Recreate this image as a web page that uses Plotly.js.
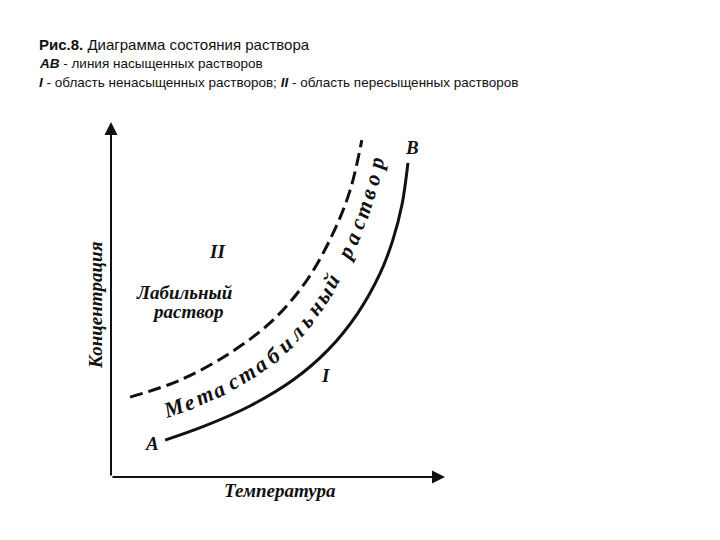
<!DOCTYPE html>
<html>
<head>
<meta charset="utf-8">
<script src="https://cdn.plot.ly/plotly-3.0.1.min.js"></script>
<style>html,body{margin:0;padding:0;background:#fff;}#chart{width:720px;height:540px;}</style>
</head>
<body>
<div id="chart"></div>
<script>
// ---- data (arbitrary units, 0..100 on both axes) ----
const saturatedX = [16.2, 28.1, 41.6, 54.5, 65.0, 73.7, 80.5, 84.4, 87.1, 88.9];   // line AB (solid)
const saturatedY = [10.4, 14.4, 20.0, 27.3, 35.8, 45.9, 57.2, 66.8, 76.6, 88.5];
const supersatX  = [5.7, 20.7, 35.6, 48.5, 58.7, 66.5, 71.6, 75.1];                // metastable limit (dashed)
const supersatY  = [22.5, 27.3, 34.9, 44.2, 55.5, 68.7, 80.8, 94.9];
const metastableLabel = "Метастабильный раствор";
const xTitle = "Температура";
const yTitle = "Концентрация";

// ---- geometry ----
const W = 720, H = 540, L = 111, R = 275, T = 122, B = 63;
const plotW = W - L - R, plotH = H - T - B;
function toPx(x, y) { return [L + x / 100 * plotW, T + (1 - y / 100) * plotH]; }
function toData(px, py) { return [(px - L) / plotW * 100, (1 - (py - T) / plotH) * 100]; }
function px2paper(px, py) { return [(px - L) / plotW, (H - B - py) / plotH]; }

function densify(pts, per) {
  const out = [];
  for (let i = 0; i < pts.length - 1; i++) {
    const p0 = pts[Math.max(i - 1, 0)], p1 = pts[i], p2 = pts[i + 1], p3 = pts[Math.min(i + 2, pts.length - 1)];
    for (let k = 0; k < per; k++) {
      const t = k / per, t2 = t * t, t3 = t2 * t;
      const f = (a, b, c, d) => 0.5 * ((2 * b) + (-a + c) * t + (2 * a - 5 * b + 4 * c - d) * t2 + (-a + 3 * b - 3 * c + d) * t3);
      out.push([f(p0[0], p1[0], p2[0], p3[0]), f(p0[1], p1[1], p2[1], p3[1])]);
    }
  }
  out.push(pts[pts.length - 1]);
  return out;
}
function cumLen(pts) {
  const c = [0];
  for (let i = 1; i < pts.length; i++) c.push(c[i - 1] + Math.hypot(pts[i][0] - pts[i - 1][0], pts[i][1] - pts[i - 1][1]));
  return c;
}
function atLen(pts, c, s) {
  let i = 1;
  while (i < c.length - 1 && c[i] < s) i++;
  const t = (s - c[i - 1]) / ((c[i] - c[i - 1]) || 1);
  return [pts[i - 1][0] + t * (pts[i][0] - pts[i - 1][0]), pts[i - 1][1] + t * (pts[i][1] - pts[i - 1][1])];
}
function resample(pts, n) {
  const c = cumLen(pts), tot = c[c.length - 1], out = [];
  for (let i = 0; i < n; i++) out.push(atLen(pts, c, tot * i / (n - 1)));
  return out;
}

const solidPx = densify(saturatedX.map((x, i) => toPx(x, saturatedY[i])), 20);
const dashPx = densify(supersatX.map((x, i) => toPx(x, supersatY[i])), 20);
const N = 400;
const rs = resample(solidPx, N), rd = resample(dashPx, N);
const mid = rs.map((p, i) => [(p[0] + rd[i][0]) / 2, (p[1] + rd[i][1]) / 2]);
const midC = cumLen(mid), midTot = midC[midC.length - 1];

const startFrac = 0.075, endFrac = 0.965;
function offsetAt(f) {
  if (f < 0.35) return 2;
  if (f < 0.65) return 2 + 8 * (f - 0.35) / 0.3;
  if (f < 0.85) return 10;
  return 10 - 4 * (f - 0.85) / 0.15;
}
const chars = Array.from(metastableLabel);
const letterAnns = chars.map((ch, k) => {
  const f = startFrac + (endFrac - startFrac) * k / (chars.length - 1);
  const s = midTot * f;
  const p = atLen(mid, midC, s);
  const a = atLen(mid, midC, Math.max(s - 12, 0)), b = atLen(mid, midC, Math.min(s + 12, midTot));
  let tx = b[0] - a[0], ty = b[1] - a[1];
  const nl = Math.hypot(tx, ty); tx /= nl; ty /= nl;
  const off = offsetAt(f);
  const px = p[0] + ty * off, py = p[1] - tx * off;
  const d = toData(px, py);
  return {
    x: d[0], y: d[1], xref: 'x', yref: 'y', text: ch, showarrow: false,
    textangle: Math.atan2(ty, tx) * 180 / Math.PI,
    font: { family: 'Liberation Serif', size: 22, weight: 'bold', style: 'italic', color: '#111' }
  };
});

const serifBI = (size) => ({ family: 'Liberation Serif', size: size, weight: 'bold', style: 'italic', color: '#111' });
function pxAnn(px, py, text, font, extra) {
  const p = px2paper(px, py);
  return Object.assign({ x: p[0], y: p[1], xref: 'paper', yref: 'paper', xanchor: 'center', yanchor: 'middle', text: text, showarrow: false, font: font }, extra || {});
}
function paperAnn(px, py, text, font) {
  const p = px2paper(px, py);
  return { x: p[0], y: p[1], xref: 'paper', yref: 'paper', xanchor: 'left', yanchor: 'middle', text: text, showarrow: false, font: font, align: 'left' };
}

const annotations = [
  // axes with arrowheads
  { x: 0, y: 100, ax: 0, ay: 0, xref: 'x', yref: 'y', axref: 'x', ayref: 'y', text: '', showarrow: true, arrowhead: 2, arrowsize: 1.3, arrowwidth: 2, arrowcolor: '#111', standoff: 0, startstandoff: 0 },
  { x: 100, y: 0, ax: 0, ay: 0, xref: 'x', yref: 'y', axref: 'x', ayref: 'y', text: '', showarrow: true, arrowhead: 2, arrowsize: 1.3, arrowwidth: 2, arrowcolor: '#111', standoff: 0, startstandoff: 0 },
  pxAnn(280, 490, xTitle, serifBI(19)),
  pxAnn(95, 305, yTitle, serifBI(19), { textangle: -90 }),
  pxAnn(217, 252, 'II', serifBI(19)),
  pxAnn(184, 292, 'Лабильный', serifBI(19)),
  pxAnn(187, 311, 'раствор', serifBI(19)),
  pxAnn(325, 375, 'I', serifBI(19)),
  pxAnn(152, 443, 'A', serifBI(19)),
  pxAnn(412, 147, 'B', serifBI(19)),
  paperAnn(37, 44, '<b>Рис.8.</b> Диаграмма состояния раствора', { family: 'Liberation Sans', size: 15, color: '#111' }),
  paperAnn(37, 63, '<b><i>AB</i></b> - линия насыщенных растворов', { family: 'Liberation Sans', size: 13.5, color: '#111' }),
  paperAnn(37, 83, '<b><i>I</i></b> - область ненасыщенных растворов; <b><i>II</i></b> - область пересыщенных растворов', { family: 'Liberation Sans', size: 13.5, color: '#111' })
].concat(letterAnns);

const traces = [
  { x: saturatedX, y: saturatedY, type: 'scatter', mode: 'lines', line: { color: '#111', width: 3, shape: 'spline', smoothing: 1 }, hoverinfo: 'skip', name: 'AB' },
  { x: supersatX, y: supersatY, type: 'scatter', mode: 'lines', line: { color: '#111', width: 3, shape: 'spline', dash: '13px,6px' }, hoverinfo: 'skip', name: 'limit' }
];

const axisBase = { range: [0, 100], showgrid: false, zeroline: false, showline: false, showticklabels: false, ticks: '', fixedrange: true };
const layout = {
  width: W, height: H,
  margin: { l: L, r: R, t: T, b: B, pad: 0 },
  paper_bgcolor: '#fff', plot_bgcolor: '#fff',
  showlegend: false,
  xaxis: axisBase, yaxis: Object.assign({}, axisBase),
  annotations: annotations
};
Plotly.newPlot('chart', traces, layout, { staticPlot: true, displayModeBar: false });
</script>
</body>
</html>
